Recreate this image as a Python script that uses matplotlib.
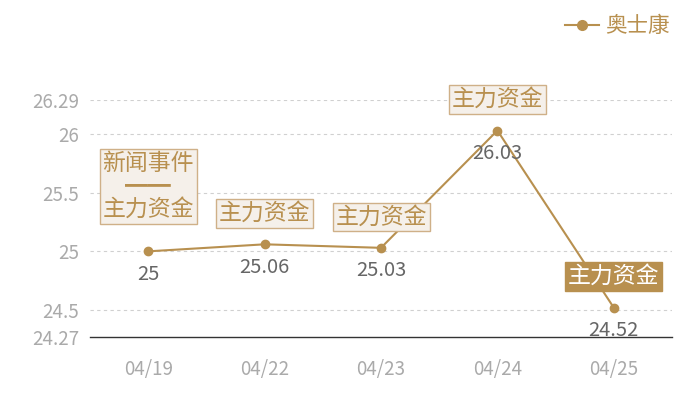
import matplotlib
matplotlib.use('Agg')
import matplotlib.pyplot as plt
from matplotlib.lines import Line2D

plt.rcParams['font.family'] = ['Noto Sans CJK SC', 'DejaVu Sans']

dates = ['04/19', '04/22', '04/23', '04/24', '04/25']
prices = [25, 25.06, 25.03, 26.03, 24.52]
price_labels = ['25', '25.06', '25.03', '26.03', '24.52']
events = ['新闻事件\n\u2501\u2501\n主力资金', '主力资金', '主力资金', '主力资金', '主力资金']
y_ticks = [24.27, 24.5, 25, 25.5, 26, 26.29]
y_ticklabels = ['24.27', '24.5', '25', '25.5', '26', '26.29']
series_name = '奥士康'

gold = '#b8904f'
box_fill = '#f5f0ea'
box_edge = '#cfb088'

fig = plt.figure(figsize=(7, 4), dpi=100)
ax = fig.add_axes([90/700, 1 - 337/400, 582/700, 237/400])

x = list(range(len(dates)))
ax.plot(x, prices, color=gold, linewidth=1.5, marker='o', markersize=6, zorder=3)

ax.set_xlim(-0.5, len(dates) - 0.5)
ax.set_ylim(24.27, 26.29)
ax.set_yticks(y_ticks)
ax.set_yticklabels(y_ticklabels)
ax.set_xticks(x)
ax.set_xticklabels(dates)
ax.tick_params(axis='both', length=0, labelcolor='#aaaaaa', labelsize=13.5)
ax.tick_params(axis='x', pad=16)
ax.tick_params(axis='y', pad=8)

for t in y_ticks[1:]:
    ax.axhline(t, color='#d0d0d0', linestyle=(0, (3, 3)), linewidth=0.8, zorder=1)
for s in ['top', 'right', 'left']:
    ax.spines[s].set_visible(False)
ax.spines['bottom'].set_color('#333333')
ax.spines['bottom'].set_linewidth(1)

# value labels under the points
for i, v in enumerate(prices):
    ax.annotate(price_labels[i], xy=(i, v), xytext=(0, -9), textcoords='offset points',
                ha='center', va='top', fontsize=14.5, color='#666666', zorder=4)

# event boxes above the points
for i, v in enumerate(prices):
    last = (i == len(prices) - 1)
    off = 22 if i == 0 else 14
    ax.annotate(events[i], xy=(i, v), xytext=(0, off), textcoords='offset points',
                ha='center', va='bottom', fontsize=16.5, linespacing=1.0,
                color='white' if last else gold,
                bbox=dict(boxstyle='square,pad=0.12',
                          fc=gold if last else box_fill,
                          ec=gold if last else box_edge, lw=1),
                zorder=5)

handle = Line2D([0], [0], color=gold, marker='o', markersize=7, linewidth=1.5)
fig.legend([handle], [series_name], loc='upper right', bbox_to_anchor=(0.985, 1.01),
           frameon=False, prop={'size': 15.5}, labelcolor=gold,
           handlelength=1.6, handletextpad=0.3)

fig.savefig('out.png', dpi=100)
